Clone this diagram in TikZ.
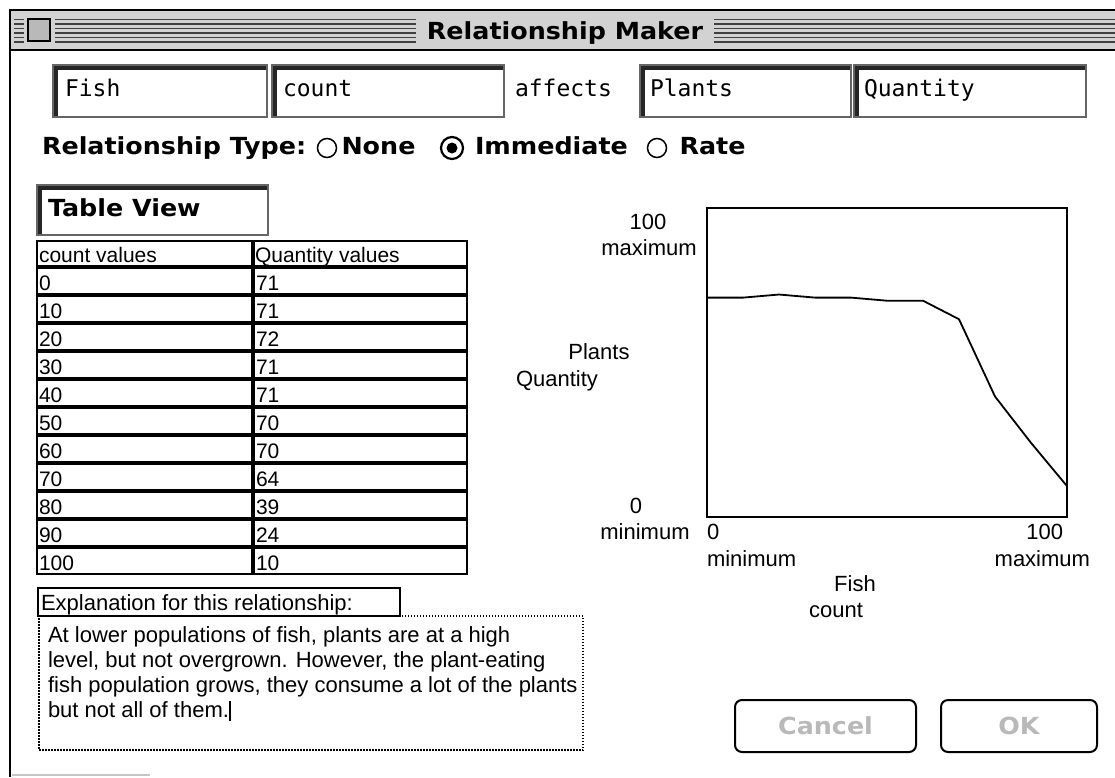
\documentclass[tikz,border=0pt]{standalone}
\usepackage{fontspec}
\setmainfont{Liberation Sans}
\newfontfamily\monaco{DejaVu Sans Mono}
\newfontfamily\chicago[FakeStretch=1.08]{DejaVu Sans}
\usetikzlibrary{positioning}

\newcommand{\fontgeneva}{\fontsize{22}{25}\selectfont}
\newcommand{\fonttable}{\fontsize{21}{25}\selectfont}
\newcommand{\fontgras}{\chicago\bfseries\fontsize{23.5}{28}\selectfont}
\newcommand{\fontchamp}{\monaco\fontsize{23}{26}\selectfont}

\begin{document}
\begin{tikzpicture}[
  x=1pt, y=-1pt,
  every node/.style={inner sep=0pt, outer sep=0pt},
  champ/.style={draw=black!60, line width=1.2pt, fill=white, anchor=north west, minimum height=52pt,
    path picture={\draw[black!85, line width=9pt] (path picture bounding box.south west)
      -- (path picture bounding box.north west) -- (path picture bounding box.north east);}},
  champtxt/.style={font=\fontchamp, text height=16pt, text depth=5pt},
  grastxt/.style={font=\fontgras, text height=17pt, text depth=5pt},
  etiq/.style={font=\fontgeneva, anchor=base},
  tabtxt/.style={font=\fonttable, anchor=base west},
  radio/.style={circle, draw, line width=1.5pt, fill=white, minimum size=19pt},
  cellule/.style={draw, line width=2pt},
  rayure/.style={black!75, line width=1.3pt},
  bouton/.style={draw, line width=2pt, rounded corners=7pt, anchor=north west, minimum height=52pt,
    text=gray!55, font=\fontgras}
]
\useasboundingbox (0,0) rectangle (1115,777);
\fill[white] (0,0) rectangle (1115,777);

% Fenetre et barre de titre
\fill[gray!35] (10,10) rectangle (1115,50);
\foreach \s in {19.5,24,28.5,33,37.5,42}{
  \draw[rayure] (14,\s) -- (24,\s);
  \draw[rayure] (55,\s) -- (416,\s);
  \draw[rayure] (714,\s) -- (1115,\s);
}
\draw[line width=2pt] (10,777) -- (10,10) -- (1115,10);
\draw[line width=2pt] (10,50) -- (1115,50);
\node[draw, line width=1.5pt, fill=gray!55, minimum size=22pt, anchor=north west] (fermer) at (28,19) {};
\node[font=\fontgras, anchor=base] (titre) at (565,39) {Relationship Maker};
\draw[gray!45, line width=2pt] (12,775) -- (150,775);

% Champs (ligne du haut)
\node[champ, minimum width=214pt] (fish) at (53,65) {};
\node[champ, minimum width=232pt] (count) at (272,65) {};
\node[champ, minimum width=211pt] (plants) at (640,65) {};
\node[champ, minimum width=232pt] (quantity) at (854,65) {};
\node[champtxt, right=12pt of fish.west] (fishtxt) {Fish};
\node[champtxt, right=11pt of count.west] (counttxt) {count};
\node[champtxt, anchor=west] (affects) at (515,91) {affects};
\node[champtxt, right=10pt of plants.west] (plantstxt) {Plants};
\node[champtxt, right=10pt of quantity.west] (quantitytxt) {Quantity};

% Type de relation
\node[grastxt, anchor=west] (reltype) at (42,148) {Relationship Type:};
\node[radio] (rnone) at (327,148) {};
\node[grastxt, right=5pt of rnone] (none) {None};
\node[radio, line width=2.2pt, minimum size=22pt] (rimm) at (452,148) {};
\node[circle, fill, minimum size=11pt] (rimmdot) at (rimm) {};
\node[grastxt, right=12pt of rimm] (immediate) {Immediate};
\node[radio] (rrate) at (657,148) {};
\node[grastxt, right=13pt of rrate] (rate) {Rate};

% Table
\node[champ, minimum width=231pt, minimum height=50pt] (tableview) at (37,185) {};
\node[grastxt, right=11pt of tableview.west] (tableviewtxt) {Table View};
\draw[cellule] (37,241) rectangle (252,266);
\draw[cellule] (254,241) rectangle (467,266);
\node[tabtxt] (hcount) at (39,262) {count values};
\node[tabtxt] (hquant) at (255,262) {Quantity values};
\foreach \c/\q [count=\i from 0] in {0/71,10/71,20/72,30/71,40/71,50/70,60/70,70/64,80/39,90/24,100/10}{
  \pgfmathsetmacro{\yt}{268+28*\i}
  \pgfmathsetmacro{\yb}{294+28*\i}
  \draw[cellule] (37,\yt) rectangle (252,\yb);
  \draw[cellule] (254,\yt) rectangle (467,\yb);
  \node[tabtxt] (cv\i) at (39,{\yb-4}) {\c};
  \node[tabtxt] (qv\i) at (256,{\yb-4}) {\q};
}

% Graphe
\node[draw, line width=2pt, minimum width=360pt, minimum height=309pt, anchor=north west] (graphe) at (707,208) {};
\begin{scope}[shift={(graphe.south west)}, x=3.6pt, y=3.09pt]
  \draw[line width=1.8pt, line join=round] plot coordinates {(0,71) (10,71) (20,72) (30,71) (40,71) (50,70) (60,70) (70,64) (80,39) (90,24) (100,10)};
\end{scope}
\node[etiq] (ymax) at (648,229) {100};
\node[etiq] (ymaxlbl) at (649,255) {maximum};
\node[etiq] (yvar) at (599,359) {Plants};
\node[etiq] (yattr) at (557,386) {Quantity};
\node[etiq] (ymin) at (636,513) {0};
\node[etiq] (yminlbl) at (645,539) {minimum};
\node[etiq, anchor=base west] (xmin) at (707,539) {0};
\node[etiq, anchor=base west] (xminlbl) at (707,566) {minimum};
\node[etiq, anchor=base east] (xmax) at (1063,539) {100};
\node[etiq, anchor=base east] (xmaxlbl) at (1090,566) {maximum};
\node[etiq] (xvar) at (855,591) {Fish};
\node[etiq] (xattr) at (836,617) {count};

% Explication
\node[draw, line width=1.5pt, dash pattern=on 1.5pt off 1.5pt, minimum width=544pt, minimum height=134pt, anchor=north west] (expbox) at (39,616) {};
\node[draw, line width=1.8pt, fill=white, minimum width=362pt, minimum height=28pt, anchor=north west] (explabel) at (38,588) {};
\node[etiq, anchor=base west] (explabeltxt) at (41,610) {Explanation for this relationship:};
\node[font=\fontgeneva, anchor=north west, align=left] (exptxt) at (48,627)
  {At lower populations of fish, plants are at a high\\
   level, but not overgrown. However, the plant-eating\\
   fish population grows, they consume a lot of the plants\\
   but not all of them.\rule[-3pt]{1.8pt}{20pt}};

% Boutons
\node[bouton, minimum width=181pt] (cancel) at (735,700) {Cancel};
\node[bouton, minimum width=156pt] (ok) at (941,700) {OK};

\end{tikzpicture}
\end{document}
